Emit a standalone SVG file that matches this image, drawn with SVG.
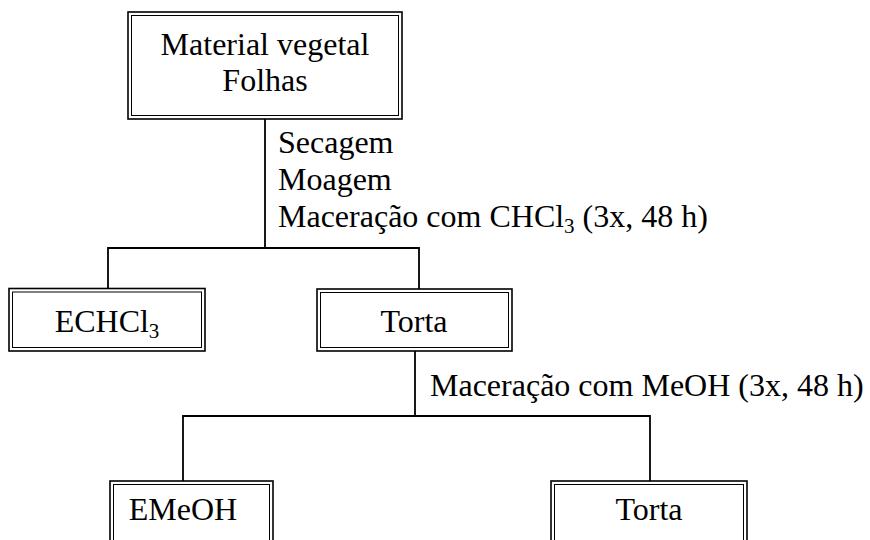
<svg xmlns="http://www.w3.org/2000/svg" width="870" height="540" viewBox="0 0 870 540">
<style>
.o{fill:#fff;stroke:#000;stroke-width:1.6}
.i{fill:none;stroke:#000;stroke-width:1}
.c{fill:none;stroke:#000;stroke-width:1.8}
text{font-family:"Liberation Serif","Times New Roman",serif;font-size:32px;fill:#000}
.m{text-anchor:middle}
.s{font-size:21px}
</style>
<rect width="870" height="540" fill="#fff"/>
<g id="connectors">
<polyline class="c" points="265,119 265,248"/>
<polyline class="c" points="108,289 108,248 419,248 419,289"/>
<polyline class="c" points="415,351 415,416"/>
<polyline class="c" points="183,481 183,416 650,416 650,481"/>
</g>
<g id="labels">
<text x="278" y="153">Secagem</text>
<text x="278" y="190">Moagem</text>
<text x="278" y="227">Maceração com CHCl<tspan class="s" dy="6">3</tspan><tspan dy="-6"> (3x, 48 h)</tspan></text>
<text x="430" y="396">Maceração com MeOH (3x, 48 h)</text>
</g>
<g id="n-material">
<rect class="o" x="128" y="12" width="274" height="107"/>
<rect class="i" x="131.5" y="15.5" width="267" height="100"/>
<text class="m" x="265" y="55">Material vegetal</text>
<text class="m" x="265" y="91">Folhas</text>
</g>
<g id="n-echcl3">
<rect class="o" x="9" y="288.5" width="196" height="62.5"/>
<rect class="i" x="12.5" y="292" width="189" height="55.5"/>
<text class="m" x="107" y="332">ECHCl<tspan class="s" dy="6">3</tspan></text>
</g>
<g id="n-torta1">
<rect class="o" x="317" y="289" width="195" height="62"/>
<rect class="i" x="320.5" y="292.5" width="188" height="55"/>
<text class="m" x="414" y="332">Torta</text>
</g>
<g id="n-emeoh">
<rect class="o" x="110" y="481" width="163" height="70"/>
<rect class="i" x="113.5" y="484.5" width="156" height="70"/>
<text class="m" x="183" y="520">EMeOH</text>
</g>
<g id="n-torta2">
<rect class="o" x="551" y="481" width="196" height="70"/>
<rect class="i" x="554.5" y="484.5" width="189" height="70"/>
<text class="m" x="649" y="520">Torta</text>
</g>
</svg>
